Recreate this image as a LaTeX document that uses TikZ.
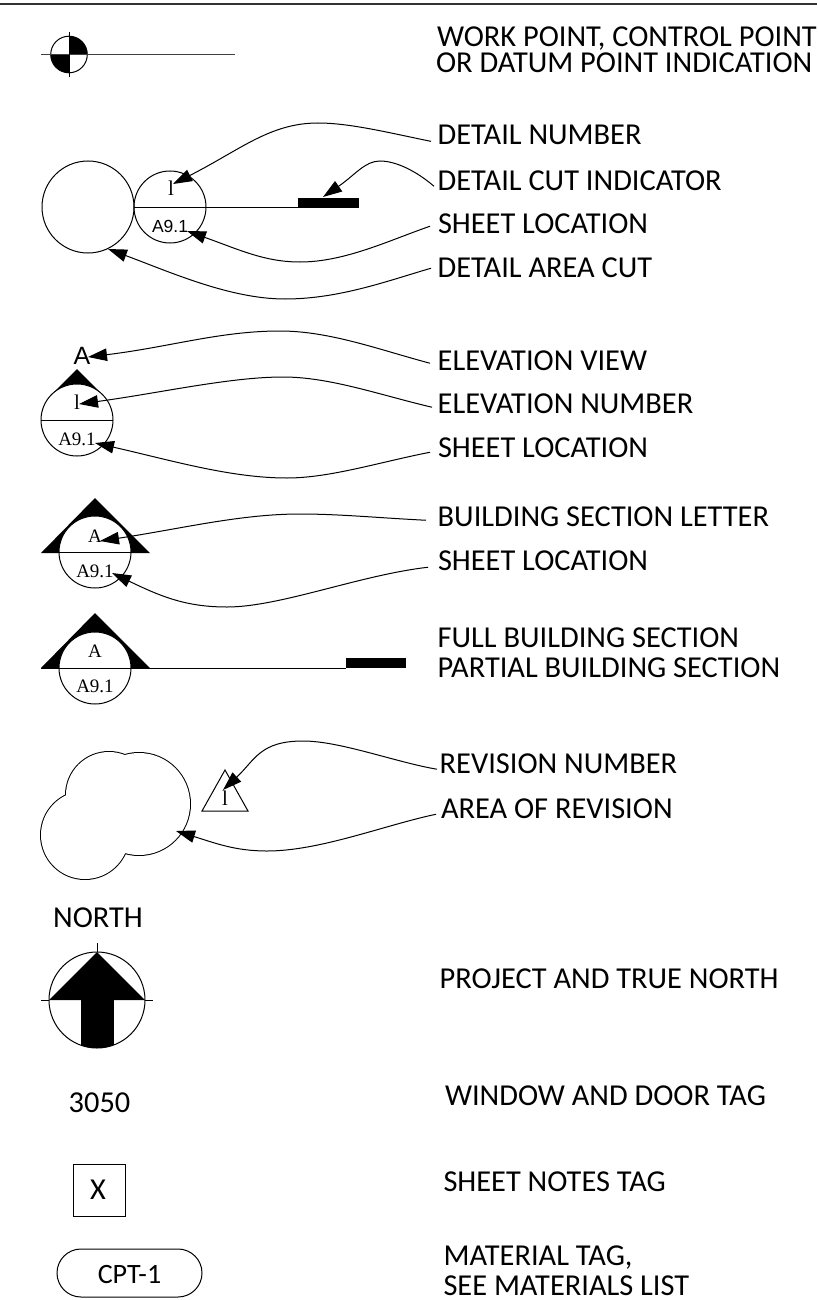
\documentclass[tikz,border=0pt]{standalone}
\usepackage{fontspec}
\setmainfont{Liberation Serif}
\newfontfamily\lblfont{Carlito}
\newfontfamily\tagsans{Liberation Sans}
\usetikzlibrary{arrows.meta}
\tikzset{
 x=1pt,y=-1pt,
 lbl/.style={font=\lblfont\fontsize{30.4}{30.4}\selectfont,anchor=base west,inner sep=0pt,outer sep=0pt},
 tag/.style={font=\fontsize{19}{19}\selectfont,inner sep=0pt,anchor=base},
 tagsf/.style={font=\tagsans\fontsize{17.5}{17.5}\selectfont,inner sep=0pt,anchor=base},
 num/.style={font=\fontsize{21}{21}\selectfont,inner sep=0pt,anchor=base},
 ld/.style={line width=1pt,-{Triangle[length=19pt,width=12.5pt]}},
 ln/.style={line width=1pt},
}
\begin{document}
\begin{tikzpicture}[line join=miter]
\useasboundingbox (0,0) rectangle (817,1300);
\fill[white] (0,0) rectangle (817,1300);
\draw[line width=1.2pt,black!80] (0,4) -- (817,4);
% work point
\fill (69,54.5) -- (69,36.2) arc[start angle=-90,end angle=0,radius=18.3] -- cycle;
\fill (69,54.5) -- (69,72.8) arc[start angle=90,end angle=180,radius=18.3] -- cycle;
\draw[ln] (69,54.5) circle[radius=18.3];
\draw[line width=1.1pt,black!75] (41,54.5) -- (235,54.5);
\draw[ln] (69,32) -- (69,77);
% detail
\draw[ln] (88,207) circle[radius=46];
\draw[ln] (170,207) circle[radius=36];
\draw[ln] (134,207.5) -- (298,207.5);
\fill (298,198) rectangle (359,208);
\node[num] (d1) at (171,196) {l};
\node[tagsf] (d2) at (170,232) {A9.1};
% elevation
\fill (77,369) -- (103,395) -- (51,395) -- cycle;
\draw[ln,fill=white] (77,420) circle[radius=36];
\draw[ln] (41,420) -- (113,420);
\node[font=\tagsans\fontsize{25}{25}\selectfont,inner sep=0pt,anchor=base] (e0) at (82,364) {A};
\node[num] (e1) at (77,409) {l};
\node[tag] (e2) at (77,445) {A9.1};
% section 1
\fill (95,498) -- (150,553) -- (41,553) -- cycle;
\draw[ln,fill=white] (95,552) circle[radius=36];
\draw[ln] (59,552.5) -- (131,552.5);
\node[tag] (s1) at (95,542) {A};
\node[tag] (s2) at (95,577) {A9.1};
% section 2
\fill (95,613) -- (150,668) -- (41,668) -- cycle;
\draw[ln,fill=white] (95,668) circle[radius=36];
\draw[ln] (41,668) -- (346,668);
\fill (346,658) rectangle (406,668);
\node[tag] (p1) at (95,657) {A};
\node[tag] (p2) at (95,692) {A9.1};
% cloud
\draw[line width=2pt] (109,795) circle[radius=43] (139,804) circle[radius=51] (85,835) circle[radius=44];
\fill[white] (109,795) circle[radius=43] (139,804) circle[radius=51] (85,835) circle[radius=44];
% revision
\draw[ln] (225,770) -- (248,811) -- (202,811) -- cycle;
\node[num] (r1) at (225,805) {l};
% north
\node[lbl,anchor=base] (n0) at (98,927) {NORTH};
\draw[ln] (97,943) -- (97,952);
\draw[ln] (41,1000) -- (49,1000) (145,1000) -- (153,1000);
\draw[ln] (97,1000) circle[radius=48];
\fill (97,952) -- (145,1000) -- (49,1000) -- cycle;
\begin{scope}
\clip (97,1000) circle[radius=48];
\fill (81,1000) rectangle (114,1050);
\end{scope}
% tags
\node[lbl,anchor=base] (t1) at (99.5,1112) {3050};
\node[draw,line width=1pt,minimum width=52pt,minimum height=52pt,inner sep=0pt] (t2) at (99,1190) {};
\node[lbl,anchor=base] (t2t) at (98,1199) {X};
\node[draw,line width=1pt,rounded corners=24pt,minimum width=145pt,minimum height=48pt,inner sep=0pt] (t3) at (129.5,1273) {};
\node[lbl,anchor=base,font=\lblfont\fontsize{28}{28}\selectfont] (t3t) at (129.5,1283) {CPT-1};
% labels
\node[lbl] (l1a) at (437,47) {WORK POINT, CONTROL POINT};
\node[lbl] (l1b) at (436,73) {OR DATUM POINT INDICATION};
\node[lbl] (l2) at (437.7,145) {DETAIL NUMBER};
\node[lbl] (l3) at (437.7,190) {DETAIL CUT INDICATOR};
\node[lbl] (l4) at (438,233) {SHEET LOCATION};
\node[lbl] (l5) at (437.7,277) {DETAIL AREA CUT};
\node[lbl] (l6) at (437.7,370) {ELEVATION VIEW};
\node[lbl] (l7) at (437.7,413) {ELEVATION NUMBER};
\node[lbl] (l8) at (438,457) {SHEET LOCATION};
\node[lbl] (l9) at (437.7,526) {BUILDING SECTION LETTER};
\node[lbl] (l10) at (438,570) {SHEET LOCATION};
\node[lbl] (l11) at (437.7,647) {FULL BUILDING SECTION};
\node[lbl] (l12) at (437.7,677) {PARTIAL BUILDING SECTION};
\node[lbl] (l13) at (439.7,773) {REVISION NUMBER};
\node[lbl] (l14) at (441,818) {AREA OF REVISION};
\node[lbl] (l15) at (439.7,988) {PROJECT AND TRUE NORTH};
\node[lbl] (l16) at (445,1105) {WINDOW AND DOOR TAG};
\node[lbl] (l17) at (443.5,1191) {SHEET NOTES TAG};
\node[lbl] (l18) at (443.7,1265) {MATERIAL TAG,};
\node[lbl] (l19) at (443.5,1295) {SEE MATERIALS LIST};
% leaders
\coordinate (a1) at (173,184);
\coordinate (a2) at (323,197);
\coordinate (a3) at (187,231);
\coordinate (a4) at (108,249);
\coordinate (a5) at (88,357);
\coordinate (a6) at (79,404);
\coordinate (a7) at (95,443);
\coordinate (a8) at (100,541);
\coordinate (a9) at (112,573);
\coordinate (a10) at (223,790);
\coordinate (a11) at (176,831);
\draw[ld] ([shift={(-6.7,6)}]l2.west) .. controls (390,133) and (350,123) .. (318,123) .. controls (270,123) and (240,150) .. (a1);
\draw[ld] ([shift={(-3.7,6)}]l3.west) .. controls (415,170) and (395,161) .. (380,161) .. controls (365,161) and (355,175) .. (a2);
\draw[ld] ([shift={(-8,3)}]l4.west) .. controls (390,240) and (345,262) .. (300,262) .. controls (265,262) and (240,250) .. (a3);
\draw[ld] ([shift={(-6.7,1)}]l5.west) .. controls (390,280) and (340,299) .. (285,299) .. controls (230,299) and (170,272) .. (a4);
\draw[ld] ([shift={(-7.7,3)}]l6.west) .. controls (380,350) and (330,331) .. (280,331) .. controls (220,331) and (170,347) .. (a5);
\draw[ld] ([shift={(-5.7,4)}]l7.west) .. controls (380,395) and (330,377) .. (283,377) .. controls (230,377) and (160,393) .. (a6);
\draw[ld] ([shift={(-8,5)}]l8.west) .. controls (380,462) and (330,478) .. (287,478) .. controls (230,478) and (170,460) .. (a7);
\draw[ld] ([shift={(-11.7,4)}]l9.west) .. controls (380,518) and (340,514) .. (300,514) .. controls (240,514) and (180,529) .. (a8);
\draw[ld] ([shift={(-10,7)}]l10.west) .. controls (360,575) and (280,607) .. (227,607) .. controls (185,607) and (160,596) .. (a9);
\draw[ld] ([shift={(-2.7,6)}]l13.west) .. controls (395,762) and (340,741) .. (303,741) .. controls (260,741) and (255,760) .. (a10);
\draw[ld] ([shift={(-5,6)}]l14.west) .. controls (385,825) and (320,851) .. (267,851) .. controls (235,851) and (215,843) .. (a11);
\end{tikzpicture}
\end{document}
